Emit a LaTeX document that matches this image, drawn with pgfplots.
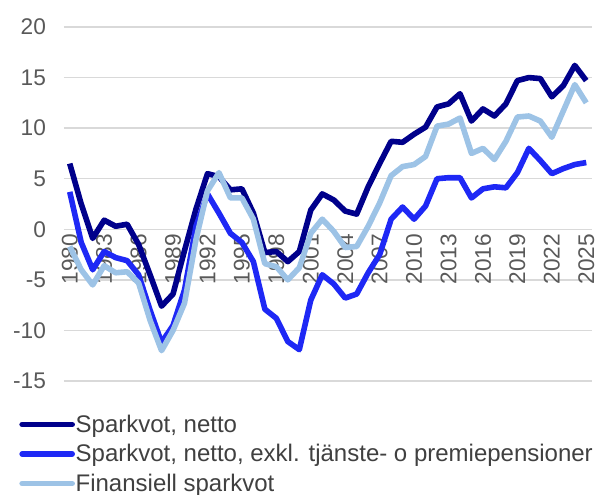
\documentclass[border=0pt]{standalone}
\usepackage{fontspec}
\setmainfont{Liberation Sans}
\usepackage{pgfplots}
\usepackage{pgfplotstable}
\pgfplotsset{compat=1.18}

\definecolor{navy}{HTML}{00008B}
\definecolor{midblue}{HTML}{1E28F5}
\definecolor{lightblue}{HTML}{9DC3E6}
\definecolor{gridgray}{HTML}{D9D9D9}
\definecolor{ticktext}{HTML}{595959}
\definecolor{legtext}{HTML}{404040}

% year, netto, exkl. tjanste- o premiepension, finansiell
\pgfplotstableread{
year netto exkl fin
1980 6.5 3.7 -1.7
1981 2.5 -1.3 -4.0
1982 -0.9 -4.0 -5.5
1983 0.9 -2.2 -3.6
1984 0.3 -2.8 -4.3
1985 0.5 -3.1 -4.2
1986 -1.5 -4.5 -5.3
1987 -4.5 -8.0 -9.0
1988 -7.6 -11.2 -12.0
1989 -6.4 -9.5 -10.0
1990 -2.1 -6.0 -7.3
1991 2.0 0.3 -1.0
1992 5.5 3.5 3.8
1993 5.2 1.6 5.6
1994 3.9 -0.4 3.1
1995 4.0 -1.3 3.1
1996 1.6 -3.2 1.0
1997 -2.3 -7.9 -3.4
1998 -2.2 -8.8 -3.7
1999 -3.2 -11.1 -5.0
2000 -2.2 -11.9 -3.8
2001 1.9 -7.0 -0.4
2002 3.5 -4.5 1.0
2003 2.9 -5.4 -0.2
2004 1.8 -6.8 -1.8
2005 1.5 -6.4 -1.7
2006 4.2 -4.3 0.3
2007 6.5 -2.5 2.6
2008 8.7 1.0 5.3
2009 8.6 2.2 6.2
2010 9.4 1.0 6.4
2011 10.1 2.3 7.2
2012 12.1 5.0 10.2
2013 12.4 5.1 10.4
2014 13.4 5.1 11.0
2015 10.7 3.1 7.5
2016 11.9 4.0 8.0
2017 11.2 4.2 6.9
2018 12.4 4.1 8.7
2019 14.7 5.6 11.1
2020 15.0 8.0 11.2
2021 14.9 6.8 10.7
2022 13.1 5.5 9.1
2023 14.2 6.0 11.7
2024 16.2 6.4 14.3
2025 14.7 6.6 12.5
}\sparkdata

\begin{document}
\begin{tikzpicture}
\begin{axis}[
  at={(0,0)}, anchor=south west,
  width=396pt, height=265.5pt,
  scale only axis,
  xmin=1979.5, xmax=2025.5,
  ymin=-15, ymax=20,
  xtick={1980,1983,...,2025},
  ytick={-15,-10,...,20},
  ymajorgrids=true,
  grid style={gridgray, line width=1pt},
  axis line style={draw=none},
  major tick length=0pt,
  tick style={draw=none},
  /pgf/number format/assume math mode=true,
  /pgf/number format/1000 sep={},
  tick label style={font=\fontsize{17}{20}\selectfont, text=ticktext},
  xticklabel style={rotate=90, anchor=east},
  xticklabel shift=-113.8pt,
  yticklabel shift=10pt,
  clip=false,
  legend style={
    at={(axis description cs:-0.085,-0.087)},
    anchor=north west,
    draw=none, fill=none,
    inner sep=0pt,
    row sep=3.6pt,
    font=\fontsize{18}{20}\selectfont,
    text=legtext,
    nodes={inner xsep=0.5pt},
  },
  legend cell align=left,
  legend image code/.code={\draw[#1, line cap=round] (0pt,0pt) -- (37.5pt,0pt);},
  every axis plot/.append style={line width=4.2pt, line join=round, no markers},
]
\addplot[navy] table[x=year, y=netto] {\sparkdata};
\addplot[midblue] table[x=year, y=exkl] {\sparkdata};
\addplot[lightblue] table[x=year, y=fin] {\sparkdata};
\legend{{Sparkvot, netto}, {Sparkvot, netto, exkl. tjänste- o premiepensioner}, {Finansiell sparkvot}}
\end{axis}
\pgfresetboundingbox
\useasboundingbox (-48pt,-85.5pt) rectangle (404.25pt,285.75pt);
\end{tikzpicture}
\end{document}
